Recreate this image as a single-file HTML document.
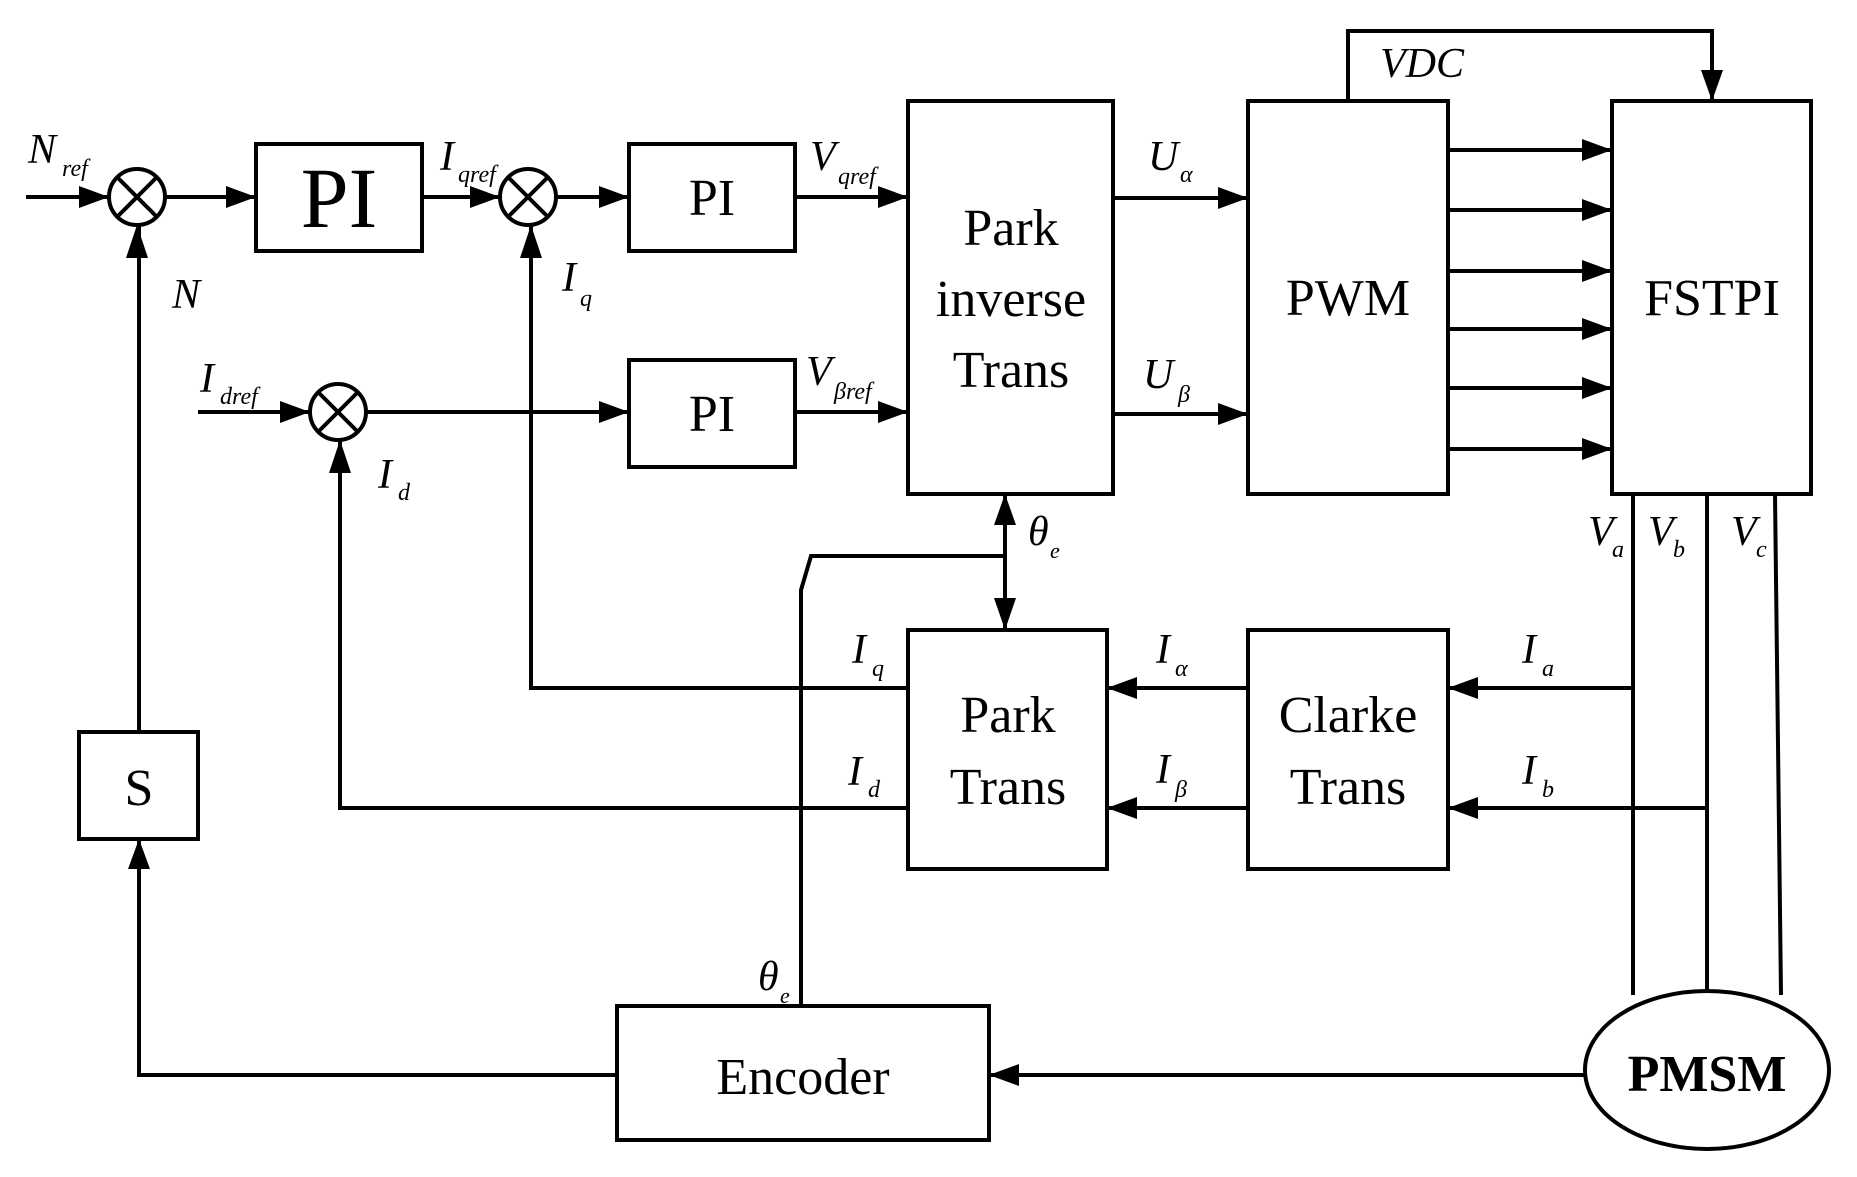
<!DOCTYPE html>
<html><head><meta charset="utf-8"><style>
html,body{margin:0;padding:0;background:#fff;}
svg{display:block;}
text{font-family:"Liberation Serif",serif;fill:#000;}
.i{font-style:italic;}
</style></head><body>
<svg width="1857" height="1177" viewBox="0 0 1857 1177" xmlns="http://www.w3.org/2000/svg">
<defs>
<marker id="a" markerWidth="10" markerHeight="8" refX="10" refY="4" orient="auto" markerUnits="userSpaceOnUse" viewBox="0 0 10 8">
</marker>
</defs>
<g stroke="#000" stroke-width="4" fill="none">
<!-- boxes -->
<rect x="256" y="144" width="166" height="107"/>
<rect x="629" y="144" width="166" height="107"/>
<rect x="629" y="360" width="166" height="107"/>
<rect x="908" y="101" width="205" height="393"/>
<rect x="1248" y="101" width="200" height="393"/>
<rect x="1612" y="101" width="199" height="393"/>
<rect x="908" y="630" width="199" height="239"/>
<rect x="1248" y="630" width="200" height="239"/>
<rect x="79" y="732" width="119" height="107"/>
<rect x="617" y="1006" width="372" height="134"/>
<ellipse cx="1707" cy="1070" rx="122" ry="79"/>
<!-- summing junctions -->
<circle cx="137" cy="197" r="28"/>
<path d="M117 177L157 217M157 177L117 217"/>
<circle cx="528" cy="197" r="28"/>
<path d="M508 177L548 217M548 177L508 217"/>
<circle cx="338" cy="412" r="28"/>
<path d="M318 392L358 432M358 392L318 432"/>
<!-- lines -->
<path d="M26 197H109"/>
<path d="M165 197H256"/>
<path d="M422 197H500"/>
<path d="M556 197H629"/>
<path d="M795 197H908"/>
<path d="M198 412H310"/>
<path d="M366 412H629"/>
<path d="M795 412H908"/>
<path d="M1113 198H1248"/>
<path d="M1113 414H1248"/>
<path d="M1348 101V31H1712V101"/>
<path d="M1448 150H1612M1448 210H1612M1448 271H1612M1448 329H1612M1448 388H1612M1448 449H1612"/>
<!-- feedback -->
<path d="M908 688H531V225"/>
<path d="M908 808H340V440"/>
<path d="M1248 688H1107"/>
<path d="M1248 808H1107"/>
<path d="M1633 688H1448"/>
<path d="M1707 808H1448"/>
<path d="M1633 494V995"/>
<path d="M1707 494V992"/>
<path d="M1775 494L1781 995"/>
<path d="M1585 1075H989"/>
<path d="M617 1075H139V839"/>
<path d="M139 732V225"/>
<path d="M801 1006V590L811 556H1005"/>
<path d="M1005 494V630"/>
</g>
<g fill="#000">
<!-- arrowheads pointing right: tip at x,y -->
<polygon points="109,197 79,186 79,208"/>
<polygon points="256,197 226,186 226,208"/>
<polygon points="500,197 470,186 470,208"/>
<polygon points="629,197 599,186 599,208"/>
<polygon points="908,197 878,186 878,208"/>
<polygon points="310,412 280,401 280,423"/>
<polygon points="629,412 599,401 599,423"/>
<polygon points="908,412 878,401 878,423"/>
<polygon points="1248,198 1218,187 1218,209"/>
<polygon points="1248,414 1218,403 1218,425"/>
<polygon points="1612,150 1582,139 1582,161"/>
<polygon points="1612,210 1582,199 1582,221"/>
<polygon points="1612,271 1582,260 1582,282"/>
<polygon points="1612,329 1582,318 1582,340"/>
<polygon points="1612,388 1582,377 1582,399"/>
<polygon points="1612,449 1582,438 1582,460"/>
<!-- left pointing -->
<polygon points="1107,688 1137,677 1137,699"/>
<polygon points="1107,808 1137,797 1137,819"/>
<polygon points="1448,688 1478,677 1478,699"/>
<polygon points="1448,808 1478,797 1478,819"/>
<polygon points="989,1075 1019,1064 1019,1086"/>
<!-- up -->
<polygon points="137,225 126,258 148,258"/>
<polygon points="531,225 520,258 542,258"/>
<polygon points="340,440 329,473 351,473"/>
<polygon points="139,839 128,869 150,869"/>
<polygon points="1005,494 994,525 1016,525"/>
<!-- down -->
<polygon points="1005,630 994,598 1016,598"/>
<polygon points="1712,101 1701,70 1723,70"/>
</g>
<!-- block texts -->
<text x="339" y="227" font-size="86" text-anchor="middle">PI</text>
<text x="712" y="215" font-size="52" text-anchor="middle">PI</text>
<text x="712" y="431" font-size="52" text-anchor="middle">PI</text>
<text x="1011" y="245" font-size="52" text-anchor="middle">Park</text>
<text x="1011" y="316" font-size="52" text-anchor="middle">inverse</text>
<text x="1011" y="387" font-size="52" text-anchor="middle">Trans</text>
<text x="1348" y="315" font-size="52" text-anchor="middle">PWM</text>
<text x="1712" y="315" font-size="52" text-anchor="middle">FSTPI</text>
<text x="1008" y="732" font-size="52" text-anchor="middle">Park</text>
<text x="1008" y="804" font-size="52" text-anchor="middle">Trans</text>
<text x="1348" y="732" font-size="52" text-anchor="middle">Clarke</text>
<text x="1348" y="804" font-size="52" text-anchor="middle">Trans</text>
<text x="139" y="805" font-size="52" text-anchor="middle">S</text>
<text x="803" y="1094" font-size="52" text-anchor="middle">Encoder</text>
<text x="1707" y="1091" font-size="52" font-weight="bold" text-anchor="middle">PMSM</text>
<!-- labels -->
<g class="i">
<text x="28" y="163" font-size="42" class="i">N</text><text x="62" y="176" font-size="24" class="i">ref</text>
<text x="172" y="308" font-size="42" class="i">N</text>
<text x="440" y="170" font-size="42" class="i">I</text><text x="458" y="182" font-size="24" class="i">qref</text>
<text x="562" y="291" font-size="42" class="i">I</text><text x="580" y="306" font-size="24" class="i">q</text>
<text x="200" y="392" font-size="42" class="i">I</text><text x="220" y="404" font-size="24" class="i">dref</text>
<text x="378" y="488" font-size="42" class="i">I</text><text x="398" y="500" font-size="24" class="i">d</text>
<text x="810" y="170" font-size="42" class="i">V</text><text x="838" y="184" font-size="24" class="i">qref</text>
<text x="806" y="385" font-size="42" class="i">V</text><text x="834" y="399" font-size="24" class="i">βref</text>
<text x="1148" y="170" font-size="42" class="i">U</text><text x="1180" y="182" font-size="24" class="i">α</text>
<text x="1143" y="388" font-size="42" class="i">U</text><text x="1178" y="402" font-size="24" class="i">β</text>
<text x="1380" y="77" font-size="42" class="i">VDC</text>
<text x="1028" y="545" font-size="42" class="i">θ</text><text x="1050" y="558" font-size="22" class="i">e</text>
<text x="852" y="663" font-size="42" class="i">I</text><text x="872" y="676" font-size="24" class="i">q</text>
<text x="848" y="785" font-size="42" class="i">I</text><text x="868" y="797" font-size="24" class="i">d</text>
<text x="1156" y="663" font-size="42" class="i">I</text><text x="1175" y="676" font-size="24" class="i">α</text>
<text x="1156" y="783" font-size="42" class="i">I</text><text x="1175" y="797" font-size="24" class="i">β</text>
<text x="1522" y="663" font-size="42" class="i">I</text><text x="1542" y="676" font-size="24" class="i">a</text>
<text x="1522" y="784" font-size="42" class="i">I</text><text x="1542" y="797" font-size="24" class="i">b</text>
<text x="1588" y="545" font-size="42" class="i">V</text><text x="1612" y="557" font-size="24" class="i">a</text>
<text x="1648" y="545" font-size="42" class="i">V</text><text x="1673" y="557" font-size="24" class="i">b</text>
<text x="1731" y="545" font-size="42" class="i">V</text><text x="1756" y="557" font-size="24" class="i">c</text>
<text x="758" y="990" font-size="42" class="i">θ</text><text x="780" y="1003" font-size="22" class="i">e</text>
</g>
</svg>
</body></html>
